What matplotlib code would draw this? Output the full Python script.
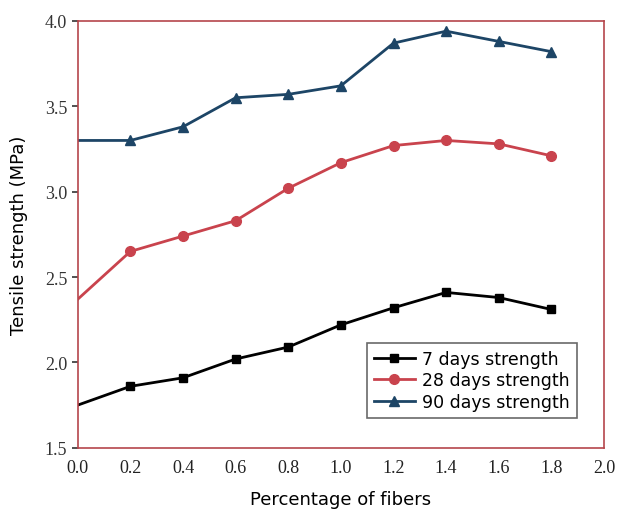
import matplotlib
matplotlib.use("Agg")
import matplotlib.pyplot as plt

fibers = [0.0, 0.2, 0.4, 0.6, 0.8, 1.0, 1.2, 1.4, 1.6, 1.8]
days7 = [1.75, 1.86, 1.91, 2.02, 2.09, 2.22, 2.32, 2.41, 2.38, 2.31]
days28 = [2.37, 2.65, 2.74, 2.83, 3.02, 3.17, 3.27, 3.30, 3.28, 3.21]
days90 = [3.30, 3.30, 3.38, 3.55, 3.57, 3.62, 3.87, 3.94, 3.88, 3.82]
xticks = [0.0, 0.2, 0.4, 0.6, 0.8, 1.0, 1.2, 1.4, 1.6, 1.8, 2.0]
yticks = [1.5, 2.0, 2.5, 3.0, 3.5, 4.0]

spine_c = "#b5454b"
fig = plt.figure(figsize=(6.17, 5.10), dpi=100)
ax = fig.add_axes([0.126, 0.120, 0.853, 0.837])

mk = list(range(1, len(fibers)))
ax.plot(fibers, days7, color="black", marker="s", markersize=6, lw=2, markevery=mk, label="7 days strength")
ax.plot(fibers, days28, color="#c9434d", marker="o", markersize=7, lw=2, markevery=mk, label="28 days strength")
ax.plot(fibers, days90, color="#1d4566", marker="^", markersize=7.5, lw=2, markevery=mk, label="90 days strength")

ax.set_xlim(0.0, 2.0)
ax.set_ylim(1.5, 4.0)
ax.set_xticks(xticks)
ax.set_xticklabels([f"{v:.1f}" for v in xticks], fontfamily="Liberation Serif", fontsize=13, color="#222222")
ax.set_yticks(yticks)
ax.set_yticklabels([f"{v:.1f}" for v in yticks], fontfamily="Liberation Serif", fontsize=13, color="#333333")
ax.tick_params(axis="both", direction="out", length=4, width=1.2, color="#333333")
ax.tick_params(axis="x", length=0, pad=8)
for s in ax.spines.values():
    s.set_color(spine_c)
    s.set_linewidth(1.2)

ax.set_xlabel("Percentage of fibers", fontsize=13, labelpad=10)
ax.set_ylabel("Tensile strength (MPa)", fontsize=13, labelpad=12)

leg = ax.legend(loc="lower right", bbox_to_anchor=(0.965, 0.05), fontsize=12.5, frameon=True,
                fancybox=False, edgecolor="#444444", handlelength=2.4, borderpad=0.4,
                labelspacing=0.2, handletextpad=0.4)
leg.get_frame().set_linewidth(1.2)

fig.savefig("out.png", dpi=100)
